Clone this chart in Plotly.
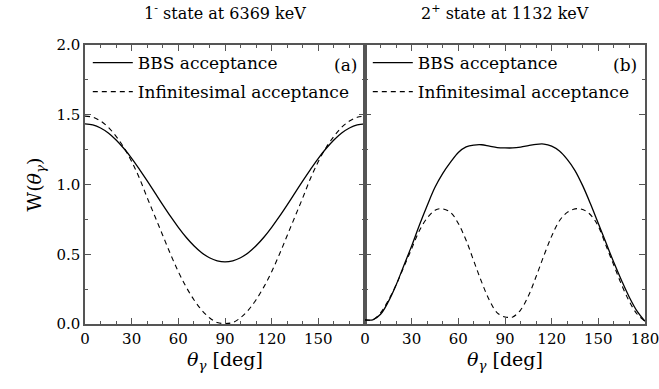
import plotly.graph_objects as go

# ---------------- data ----------------
# Panel (a): 1- state at 6369 keV
theta_a = [0, 5, 10, 15, 20, 25, 30, 35, 40, 45, 50, 55, 60, 65, 70, 75, 80, 85, 90,
           95, 100, 105, 110, 115, 120, 125, 130, 135, 140, 145, 150, 155, 160, 165, 170, 175, 180]
bbs_a = [1.435, 1.427, 1.405, 1.369, 1.319, 1.258, 1.188, 1.109, 1.026, 0.940, 0.854, 0.771,
         0.693, 0.622, 0.561, 0.511, 0.475, 0.453, 0.445,
         0.453, 0.475, 0.511, 0.561, 0.622, 0.693, 0.771, 0.854, 0.940, 1.026, 1.109, 1.188,
         1.258, 1.319, 1.369, 1.405, 1.427, 1.435]
inf_a = [1.490, 1.482, 1.455, 1.410, 1.345, 1.265, 1.165, 1.045, 0.905, 0.770, 0.635, 0.500,
         0.375, 0.266, 0.174, 0.100, 0.045, 0.011, 0.003,
         0.011, 0.045, 0.100, 0.174, 0.266, 0.375, 0.500, 0.635, 0.770, 0.905, 1.045, 1.165,
         1.265, 1.345, 1.410, 1.455, 1.482, 1.490]

# Panel (b): 2+ state at 1132 keV
theta_b = [0, 5, 10, 15, 20, 25, 30, 35, 40, 45, 50, 55, 60, 65, 70, 75, 80, 85, 90,
           95, 100, 105, 110, 115, 120, 125, 130, 135, 140, 145, 150, 155, 160, 165, 170, 175, 180]
bbs_b = [0.03, 0.03, 0.07, 0.16, 0.28, 0.42, 0.56, 0.71, 0.85, 0.98, 1.08, 1.16, 1.23, 1.27,
         1.283, 1.285, 1.275, 1.265, 1.262, 1.262, 1.268, 1.278, 1.288, 1.29, 1.275, 1.24,
         1.18, 1.10, 0.99, 0.86, 0.72, 0.58, 0.44, 0.31, 0.19, 0.09, 0.02]
theta_b_inf = [0, 5, 10, 15, 20, 25, 30, 35, 40, 45, 49, 55, 60, 65, 70, 75, 80, 85, 90, 93,
               95, 100, 105, 110, 115, 120, 125, 130, 135, 138, 142, 146, 150, 155, 160, 165,
               170, 175, 180]
inf_b = [0.03, 0.03, 0.08, 0.17, 0.28, 0.41, 0.54, 0.67, 0.76, 0.815, 0.826, 0.80, 0.72, 0.60,
         0.45, 0.30, 0.17, 0.08, 0.05, 0.048, 0.05, 0.10, 0.20, 0.34, 0.49, 0.63, 0.74, 0.80,
         0.825, 0.826, 0.81, 0.77, 0.70, 0.56, 0.42, 0.28, 0.16, 0.07, 0.02]

x_ticks_a = [0, 30, 60, 90, 120, 150]
x_ticks_b = [0, 30, 60, 90, 120, 150, 180]
y_ticks = [0.0, 0.5, 1.0, 1.5, 2.0]
y_tick_text = ["0.0", "0.5", "1.0", "1.5", "2.0"]

titles = ["1<sup>-</sup> state at 6369 keV", "2<sup>+</sup> state at 1132 keV"]
labels = ["BBS acceptance", "Infinitesimal acceptance"]
panel_tags = ["(a)", "(b)"]

# ---------------- figure ----------------
SERIF = "'DejaVu Serif'"
AX = "#555555"

fig = go.Figure()
fig.add_trace(go.Scatter(x=theta_a, y=bbs_a, mode="lines", name=labels[0],
                         line=dict(color="black", width=1.3, shape="spline"),
                         xaxis="x", yaxis="y", legend="legend", legendgroup="a1"))
fig.add_trace(go.Scatter(x=theta_a, y=inf_a, mode="lines", name=labels[1],
                         line=dict(color="black", width=1.1, dash="5px,4px", shape="spline"),
                         xaxis="x", yaxis="y", legend="legend", legendgroup="a2"))
fig.add_trace(go.Scatter(x=theta_b, y=bbs_b, mode="lines", name=labels[0],
                         line=dict(color="black", width=1.3, shape="spline"),
                         xaxis="x2", yaxis="y2", legend="legend2", legendgroup="b1"))
fig.add_trace(go.Scatter(x=theta_b_inf, y=inf_b, mode="lines", name=labels[1],
                         line=dict(color="black", width=1.1, dash="5px,4px", shape="spline"),
                         xaxis="x2", yaxis="y2", legend="legend2", legendgroup="b2"))

common_x = dict(range=[0, 180], showline=True, linecolor=AX, linewidth=1.5, mirror="ticks",
                ticks="inside", ticklen=6, tickcolor=AX, tickwidth=1,
                minor=dict(ticks="inside", ticklen=3, dtick=10, tick0=0, tickcolor=AX),
                showgrid=False, zeroline=False, ticklabeloverflow="allow",
                tickfont=dict(family=SERIF, size=15, color="black"),
                title=dict(text="<i>θ</i><sub><i>γ</i></sub> [deg]",
                           font=dict(family=SERIF, size=19, color="black"), standoff=6))
common_y = dict(range=[0, 2.0], showline=True, linecolor=AX, linewidth=1.5, mirror="ticks",
                ticks="inside", ticklen=6, tickcolor=AX, tickwidth=1,
                minor=dict(ticks="inside", ticklen=3, dtick=0.25, tick0=0, tickcolor=AX),
                tickvals=y_ticks, showgrid=False, zeroline=False,
                tickfont=dict(family=SERIF, size=15, color="black"))

leg_common = dict(font=dict(family=SERIF, size=17, color="black"), bgcolor="rgba(0,0,0,0)",
                  xanchor="left", yanchor="top", tracegroupgap=4, itemwidth=40)

fig.update_layout(
    width=659, height=389,
    margin=dict(l=85, r=14, t=45, b=65, autoexpand=False),
    paper_bgcolor="white", plot_bgcolor="white",
    xaxis=dict(common_x, domain=[0, 0.5], anchor="y", tickvals=x_ticks_a),
    xaxis2=dict(common_x, domain=[0.5, 1.0], anchor="y2", tickvals=x_ticks_b),
    yaxis=dict(common_y, domain=[0, 1], anchor="x", ticktext=y_tick_text,
               title=dict(text="W(<i>θ</i><sub><i>γ</i></sub>)",
                          font=dict(family=SERIF, size=19, color="black"), standoff=10)),
    yaxis2=dict(common_y, domain=[0, 1], anchor="x2", showticklabels=False),
    legend=dict(leg_common, x=0.005, y=1.0),
    legend2=dict(leg_common, x=0.505, y=1.0),
    showlegend=True,
    annotations=[
        dict(text=titles[0], x=0.25, y=1.0, xref="paper", yref="paper", yshift=20,
             showarrow=False, xanchor="center", yanchor="bottom",
             font=dict(family=SERIF, size=16, color="black")),
        dict(text=titles[1], x=0.75, y=1.0, xref="paper", yref="paper", yshift=20,
             showarrow=False, xanchor="center", yanchor="bottom",
             font=dict(family=SERIF, size=16, color="black")),
        dict(text=panel_tags[0], x=0.49, y=0.93, xref="paper", yref="paper",
             showarrow=False, xanchor="right", yanchor="middle",
             font=dict(family=SERIF, size=17, color="black")),
        dict(text=panel_tags[1], x=0.99, y=0.93, xref="paper", yref="paper",
             showarrow=False, xanchor="right", yanchor="middle",
             font=dict(family=SERIF, size=17, color="black")),
    ],
)

fig.write_html("out.html")
